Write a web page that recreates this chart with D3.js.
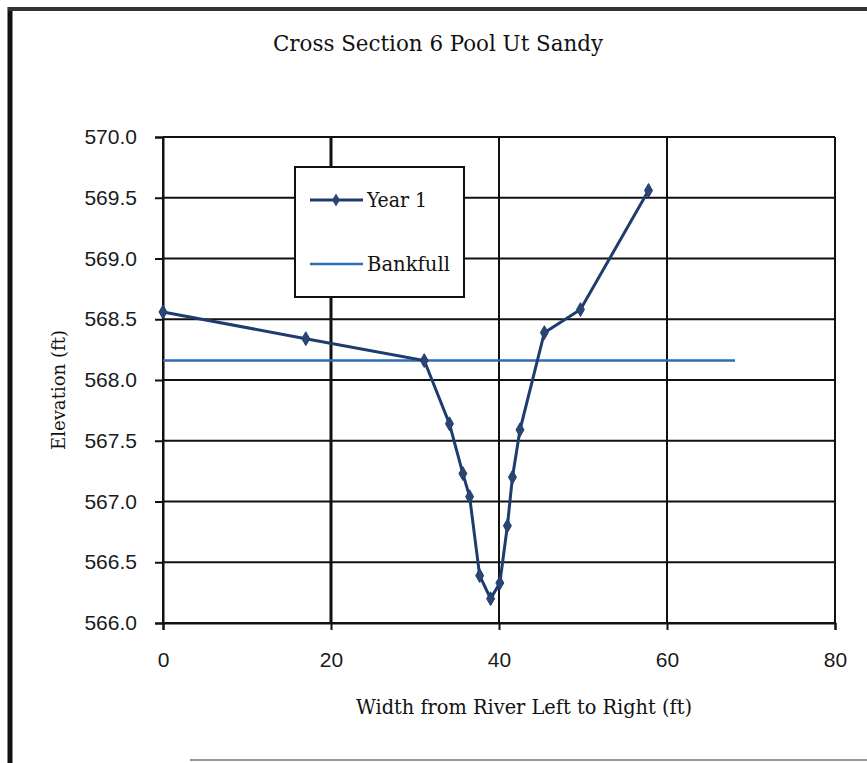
<!DOCTYPE html>
<html>
  <head>
    <meta charset="utf-8">
    <script src="https://cdn.jsdelivr.net/npm/d3@7"></script>
    <style>
        body { margin: 0; background: #fff; }
        .tick text { font-family: "Liberation Sans", Arial, sans-serif; font-size: 21px; fill: #1a1a1a; }
        .serif { font-family: "DejaVu Serif Condensed", "DejaVu Serif", serif; font-stretch: condensed; fill: #111; }
    </style>
  </head>

  <body>
    <div id="my_dataviz"></div>
  </body>

  <script>

    // Year 1 survey points (width ft, elevation ft)
    let widthPts = [0, 17.0, 31.1, 34.1, 35.7, 36.5, 37.7, 39.0, 40.1, 41.0, 41.6, 42.5, 45.4, 49.7, 57.8];
    let elevPts  = [568.56, 568.34, 568.16, 567.64, 567.23, 567.04, 566.39, 566.20, 566.33, 566.80, 567.20, 567.59, 568.39, 568.58, 569.56];

    let bankWidth = [0, 68.1];
    let bankElev  = [568.16, 568.16];

    let xTicks = [0, 20, 40, 60, 80];
    let yTicks = [566.0, 566.5, 567.0, 567.5, 568.0, 568.5, 569.0, 569.5, 570.0];

    let W = 867, H = 763;
    let margin = {left: 163, right: 835, top: 137, bottom: 623};

    let svg = d3.select("#my_dataviz")
                .append("svg")
                    .attr("width", W)
                    .attr("height", H);

    let x = d3.scaleLinear()
              .domain([0, 80])
              .range([margin.left, margin.right]);

    let y = d3.scaleLinear()
              .domain([566, 570])
              .range([margin.bottom, margin.top]);

    // outer frame bits
    svg.append("line")
       .attr("x1", 10).attr("x2", 10).attr("y1", 7).attr("y2", H)
       .attr("stroke", "#111").attr("stroke-width", 5);
    svg.append("line")
       .attr("x1", 8).attr("x2", W).attr("y1", 9).attr("y2", 9)
       .attr("stroke", "#333").attr("stroke-width", 4);
    svg.append("line")
       .attr("x1", 190).attr("x2", W).attr("y1", 760).attr("y2", 760)
       .attr("stroke", "#999").attr("stroke-width", 2);

    svg.append("text")
       .attr("class", "serif")
       .attr("x", 438).attr("y", 51)
       .attr("text-anchor", "middle")
       .attr("textLength", 330)
       .attr("lengthAdjust", "spacingAndGlyphs")
       .style("font-size", "22px")
       .text("Cross Section 6 Pool Ut Sandy");

    // grid
    svg.append("g")
       .selectAll("line")
       .data(yTicks)
       .enter()
       .append("line")
         .attr("x1", margin.left).attr("x2", margin.right)
         .attr("y1", d => y(d)).attr("y2", d => y(d))
         .attr("stroke", "#111")
         .attr("stroke-width", 2);

    svg.append("g")
       .selectAll("line")
       .data(xTicks)
       .enter()
       .append("line")
         .attr("x1", d => x(d)).attr("x2", d => x(d))
         .attr("y1", margin.top).attr("y2", margin.bottom)
         .attr("stroke", "#111")
         .attr("stroke-width", d => d == 20 ? 3 : 2);

    svg.append("g")
       .attr("transform", "translate(0," + margin.bottom + ")")
       .call(d3.axisBottom(x).tickValues(xTicks).tickSize(7).tickPadding(22))
       .call(g => g.select(".domain").attr("stroke", "#111").attr("stroke-width", 2))
       .call(g => g.selectAll(".tick line").attr("stroke", "#111").attr("stroke-width", 2));

    svg.append("g")
       .attr("transform", "translate(" + margin.left + ",0)")
       .call(d3.axisLeft(y).tickValues(yTicks).tickFormat(d3.format(".1f")).tickSize(8).tickPadding(18))
       .call(g => g.select(".domain").attr("stroke", "#111").attr("stroke-width", 2))
       .call(g => g.selectAll(".tick line").attr("stroke", "#111").attr("stroke-width", 2));

    svg.append("text")
       .attr("class", "serif")
       .attr("x", 524).attr("y", 714)
       .attr("text-anchor", "middle")
       .attr("textLength", 336)
       .attr("lengthAdjust", "spacingAndGlyphs")
       .style("font-size", "21px")
       .text("Width from River Left to Right (ft)");

    svg.append("text")
       .attr("class", "serif")
       .attr("transform", "translate(65,390) rotate(-90)")
       .attr("text-anchor", "middle")
       .attr("textLength", 120)
       .attr("lengthAdjust", "spacingAndGlyphs")
       .style("font-size", "19px")
       .text("Elevation (ft)");

    // series
    let year1 = widthPts.map((w, i) => ({ w: w, e: elevPts[i] }));
    let bank  = bankWidth.map((w, i) => ({ w: w, e: bankElev[i] }));

    let line = d3.line()
                 .x(d => x(d.w))
                 .y(d => y(d.e));

    svg.append("path")
       .datum(bank)
       .attr("fill", "none")
       .attr("stroke", "#2f6db5")
       .attr("stroke-width", 2.5)
       .attr("d", line);

    svg.append("path")
       .datum(year1)
       .attr("fill", "none")
       .attr("stroke", "#1e3c6e")
       .attr("stroke-width", 3)
       .attr("d", line);

    svg.append("g")
       .selectAll("path")
       .data(year1)
       .enter()
       .append("path")
         .attr("transform", d => "translate(" + x(d.w) + "," + y(d.e) + ")")
         .attr("d", d3.symbol().type(d3.symbolDiamond).size(55))
         .attr("fill", "#2a4670")
         .attr("stroke", "#1e3c6e")
         .attr("stroke-width", 1);

    // legend
    let lg = svg.append("g").attr("transform", "translate(295,167)");

    lg.append("rect")
      .attr("width", 169).attr("height", 130)
      .attr("fill", "#fff")
      .attr("stroke", "#111")
      .attr("stroke-width", 2);

    lg.append("line")
      .attr("x1", 15).attr("x2", 68).attr("y1", 33).attr("y2", 33)
      .attr("stroke", "#1e3c6e").attr("stroke-width", 3);
    lg.append("path")
      .attr("transform", "translate(41,33)")
      .attr("d", d3.symbol().type(d3.symbolDiamond).size(50))
      .attr("fill", "#2a4670");
    lg.append("text")
      .attr("class", "serif")
      .attr("x", 72).attr("y", 40)
      .attr("textLength", 60)
      .attr("lengthAdjust", "spacingAndGlyphs")
      .style("font-size", "21px")
      .text("Year 1");

    lg.append("line")
      .attr("x1", 15).attr("x2", 68).attr("y1", 97).attr("y2", 97)
      .attr("stroke", "#2f6db5").attr("stroke-width", 2.5);
    lg.append("text")
      .attr("class", "serif")
      .attr("x", 72).attr("y", 104)
      .attr("textLength", 83)
      .attr("lengthAdjust", "spacingAndGlyphs")
      .style("font-size", "21px")
      .text("Bankfull");

  </script>

</html>
